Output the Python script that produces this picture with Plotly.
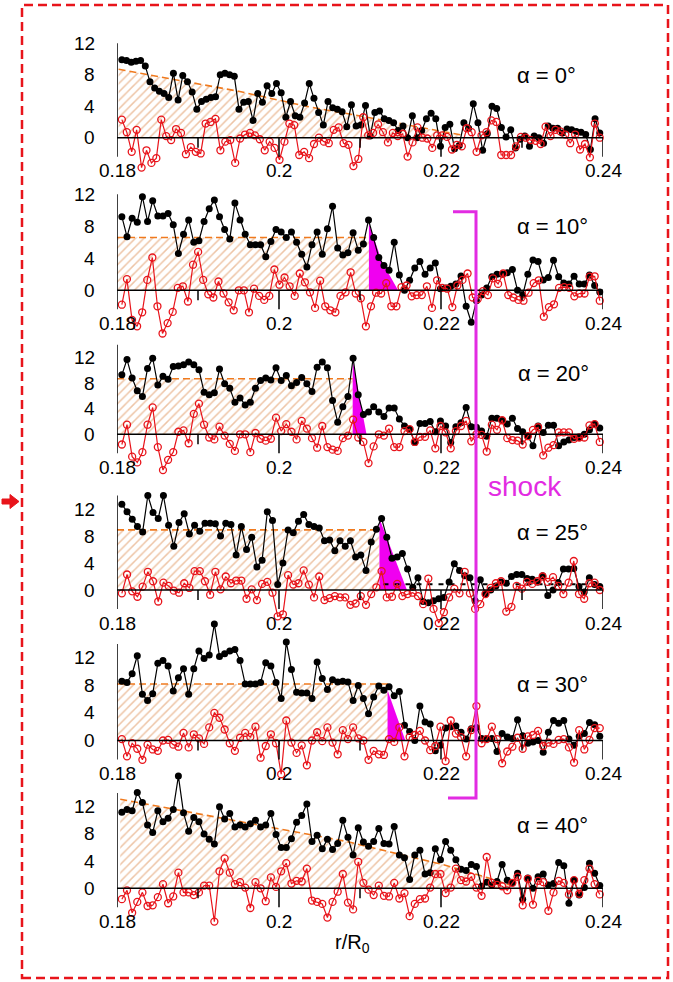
import numpy as np
import plotly.graph_objects as go

W, H = 673, 982
X_FIRST, X_LAST = 0.1806, 0.2396

# ---------------- data ----------------
x_ticks_major = [0.18, 0.20, 0.22, 0.24]
x_tick_labels = ["0.18", "0.2", "0.22", "0.24"]
x_ticks_minor = [0.19, 0.21, 0.23]
y_ticks_major = [0, 4, 8, 12]
y_tick_labels = ["0", "4", "8", "12"]
angles = ["α = 0°", "α = 10°", "α = 20°", "α = 25°", "α = 30°", "α = 40°"]
axis_top = [12, 12, 14, 14, 14, 14]

black_0 = [9.9, 9.8, 9.6, 9.7, 9.8, 9.1, 7.1, 6.3, 5.9, 5.6,
           5.1, 8.2, 4.8, 7.9, 7.1, 5.8, 3.6, 4.6, 4.9, 5.1,
           5.2, 8.0, 8.2, 8.0, 7.8, 3.6, 4.5, 4.6, 2.2, 5.6,
           4.5, 6.6, 5.6, 6.9, 5.7, 2.6, 4.6, 2.8, 2.6, 4.4,
           6.9, 5.0, 3.2, 1.6, 4.6, 3.8, 3.6, 3.3, 1.4, 4.2,
           1.5, 1.6, 4.1, 0.2, 3.2, 3.4, 2.4, 2.2, 1.9, 0.9,
           1.5, 0.0, 2.8, 0.0, 0.9, 2.4, 3.1, 2.4, -1.1, 1.3,
           1.7, -1.4, -1.0, 1.9, 1.2, 4.3, 1.9, -1.6, 0.5, 4.0,
           3.7, 1.3, 0.1, 1.0, -1.3, -0.2, 0.2, -1.1, 0.2, 0.0,
           -0.7, 1.5, 1.2, 1.2, 0.6, 1.1, 1.0, 0.8, 0.7, 0.4,
           -1.5, 2.4, 0.6]
red_0 = [2.3, 0.7, -1.8, 1.0, -3.8, -1.6, -3.2, -2.6, 2.3, 0.2,
         -0.3, 1.1, 0.6, -2.1, -1.2, -1.8, -2.0, 1.8, 2.0, 2.4,
         -1.6, -0.5, -0.3, -3.2, -0.1, 0.4, 0.6, 0.3, -0.2, -1.6,
         -0.5, -1.3, -2.8, -0.5, 1.8, 1.6, -2.2, -1.8, -2.6, -0.8,
         0.0, -0.5, -0.7, 1.0, 1.3, -0.7, -0.9, -3.6, -2.7, 2.6,
         0.3, 0.6, 1.7, 0.7, -0.6, 0.6, 0.2, 0.5, -2.4, -0.6,
         1.3, 0.0, -0.1, -1.3, 0.3, 0.3, 0.1, -1.5, -0.9, -1.1,
         1.2, 0.7, -1.8, 0.3, 0.7, 2.2, 2.0, -2.2, -2.2, -2.2,
         -1.1, 0.1, 0.0, -0.3, -0.4, -0.8, 1.4, 0.2, 1.0, 0.8,
         0.4, -0.7, 0.4, -1.5, -0.8, -2.5, 1.8, 0.0]

black_1 = [9.2, 6.7, 9.0, 8.5, 11.7, 8.6, 11.2, 9.3, 9.3, 9.6,
           8.2, 4.6, 7.0, 8.8, 6.0, 6.2, 8.6, 10.2, 11.3, 9.2,
           7.6, 6.4, 10.9, 8.8, 7.0, 5.7, 5.7, 5.7, 4.2, 6.1,
           7.6, 7.3, 6.6, 7.3, 6.0, 4.5, 2.9, 5.7, 7.3, 4.5,
           7.7, 10.5, 5.3, 4.4, 4.7, 7.2, 5.0, 5.8, 8.8,
           6.6, 4.1, 3.1, 2.5, 6.0, 1.9, 0.0, 1.25, 2.8, 3.6,
           2.0, 2.8, 3.4, 0.2, 0.3, 0.5, 0.8, 1.8, -2.0, -4.0,
           -1.3, -0.6, 0.3, 1.7, 2.0, 2.0, 2.2, 2.6, 0.0, -0.6,
           2.0, 3.8, 3.6, 1.3, 1.6, 3.75, 1.7, 0.9, 0.8, 1.75,
           0.8, 0.8, 1.9, 0.6, -0.2]
red_1 = [-1.8, 1.4, -3.7, -4.5, -2.75, 1.3, 4.1, -2.0, -5.4, -4.1,
         -2.7, 0.3, 0.5, -1.4, 3.2, 4.8, 1.3, -0.5, -0.9, 1.1,
         -0.4, -1.5, -2.5, 0.0, 0.0, -2.75, 0.2, -0.7, -1.2, -0.7,
         2.6, 0.7, 1.6, 0.5, -0.7, 2.1, 1.0, -0.25, -2.2, 1.2,
         -2.0, -2.5, -2.75, -0.7, -0.25, 2.25, -0.4, -1.0, -4.5,
         -2.0, -0.3, -0.4, 0.9, -2.0, -2.0, 0.4, 0.6, -0.75, -0.6,
         -0.6, 0.5, -2.2, 1.25, 0.3, 0.2, -2.1, 0.6, 1.3, 2.1,
         -0.9, -1.1, -0.1, -0.6, 1.5, 0.8, 2.1, -0.6, -0.9, -1.2,
         -1.3, -0.3, 0.9, 1.25, -3.3, -2.1, -1.75, 0.3, 0.4, 0.3,
         -0.75, -0.4, -0.4, 1.7, 1.75, -1.3]

black_2 = [9.3, 11.7, 8.8, 6.8, 5.9, 10.3, 11.9, 7.7, 9.1, 8.6,
           10.6, 10.7, 10.9, 11.3, 10.9, 10.1, 6.6, 6.2, 6.5, 10.2,
           7.9, 7.2, 5.0, 5.7, 4.6, 5.0, 7.2, 8.4, 8.8, 8.5,
           10.4, 8.4, 9.2, 7.6, 8.1, 8.9, 7.9, 6.7, 10.5, 11.3,
           10.4, 5.3, 1.9, 4.3, 5.9, 11.9, 6.2, 3.1, 3.5, 4.3,
           3.5, 2.8, 4.1, 4.1, 2.4, 1.3, 0.8, -1.3, 1.7, 1.7,
           2.0, 0.4, 2.1, 1.3, -1.3, 1.2, 1.8, 4.2, 1.2, 1.1,
           0.5, -0.3, 2.5, 2.5, 2.2, 1.6, 2.5, 0.9, 0.4, -0.3,
           -1.8, 1.3, 0.3, 1.4, 1.4, -1.8, -1.2, -0.9, -0.5, -0.5,
           0.0, 0.7, 1.6, 1.0]
red_2 = [-1.6, 1.5, -3.5, -4.4, -2.8, 1.5, 4.2, -2.0, -5.6, -4.0,
         -2.8, 0.4, 0.6, -1.4, 3.2, 4.8, 1.5, -0.5, -0.8, 1.2,
         -0.2, -1.5, -2.6, 0.0, 0.0, -2.8, 0.2, -0.7, -1.0, -0.7,
         2.6, 0.5, 1.6, 0.4, -0.8, 2.1, 0.9, -0.6, -2.1, 1.3,
         -2.0, -2.4, -2.6, -0.6, -0.2, 2.3, -0.5, -1.2, -4.5, -1.9,
         0.0, -0.2, 0.9, -2.0, -2.0, 0.5, 0.8, -1.2, -0.4, -0.4,
         0.6, -2.2, 1.3, 0.3, -2.2, 0.5, 1.3, 2.1, -1.1, 0.0,
         -0.1, -2.7, 1.5, 0.7, 2.2, -0.6, -0.9, -1.0, -1.6, -0.3,
         0.7, 1.1, -3.3, -2.1, -1.7, 0.3, 0.3, 0.3, -0.7, -0.5,
         -0.5, 1.4, 1.6, -1.2]

black_3 = [12.7, 11.6, 10.5, 9.4, 8.6, 14.0, 11.5, 10.6, 14.0, 9.6,
           6.5, 10.0, 11.3, 8.3, 9.6, 8.7, 9.9, 9.9, 9.8, 8.0,
           9.9, 9.7, 5.2, 9.4, 6.0, 7.8, 3.4, 4.4, 11.6, 10.3,
           0.8, 4.0, 8.9, 8.5, 10.2, 11.2, 9.7, 9.4, 9.2, 7.3,
           7.4, 5.8, 7.3, 6.5, 7.3, 4.9, 5.2, 2.9, 7.1, 9.0,
           10.6, 7.8, 4.7, 4.9, 5.4, 3.1, 0.4, 1.8, -1.7, -1.9,
           -1.6, -1.3, -1.1, 1.2, 3.9, 2.9, 2.1, 1.8, -1.6, 1.5,
           -0.6, 0.0, 0.6, 1.2, 1.0, 2.0, 2.3, 2.3, 1.7, 1.6,
           1.2, 2.1, -0.8, 0.0, 1.1, 3.1, 3.1, 3.2, 0.5, -0.3,
           1.8, 0.8, 0.5]
red_3 = [-0.5, 2.3, -0.2, -1.0, 0.5, 2.7, 1.3, -1.7, 1.1, 0.6,
         -0.1, -0.4, 1.0, 0.3, 2.8, 2.8, 1.3, -0.7, 2.7, 0.1,
         2.0, 1.0, 1.4, 1.4, -1.3, 0.1, -1.5, 0.9, 1.2, -0.4,
         -3.9, -3.6, 2.2, 0.8, 1.0, 2.9, 0.8, -1.1, 2.0, -1.5,
         -1.2, -0.9, -1.1, -1.1, -2.2, -2.0, -0.9, -2.2, -0.6, 0.4,
         2.8, -1.1, -1.0, 0.9, -0.9, -0.6, -0.4, -0.9, -2.1, 1.7,
         -2.8, -4.9, -3.3, -1.1, 0.2, -0.5, 2.7, -0.5, -2.8, -2.1,
         -0.6, 0.3, 1.0, 1.3, -3.2, -2.5, 0.6, 0.2, 1.2, 0.9,
         1.3, 2.0, 1.2, 1.9, 0.6, -0.6, 1.1, 4.3, -0.6, -1.3,
         1.0, 1.1, 0.0]

black_4 = [8.6, 8.4, 9.7, 12.3, 6.7, 5.8, 6.8, 11.2, 11.6, 10.8,
           7.2, 9.1, 10.4, 6.7, 10.4, 13.0, 11.9, 12.4, 16.9, 12.2,
           12.6, 13.0, 13.2, 11.6, 8.2, 8.2, 8.2, 8.4, 11.3, 10.8,
           8.4, 6.1, 14.3, 10.3, 7.0, 6.9, 6.9, 6.1, 11.4, 9.0,
           7.4, 8.8, 8.5, 8.6, 8.5, 5.8, 8.0, 6.1, 3.9, 6.3,
           7.9, 7.3, 7.8, 6.5, 7.1, 2.2, 1.3, 0.0, 5.0, 2.7,
           2.4, -1.5, -0.7, 1.8, 2.0, 2.1, 1.2, 0.2, 1.7, 1.9,
           0.3, 0.3, 0.3, -1.6, 1.0, 0.5, 0.3, 3.0, 0.7, -0.4,
           -0.2, 0.0, -1.7, 1.2, 2.9, 2.5, 2.9, 0.2, -0.7, 0.6,
           1.0, 2.6, 2.3, 0.6]
red_4 = [0.2, -2.3, -0.4, -1.2, -2.8, -0.6, -1.3, -1.5, 0.0, 0.1,
         -0.6, -0.9, 1.1, -1.0, 0.9, 0.3, -0.5, 1.9, 4.0, 3.3,
         1.6, -0.4, -1.5, 0.4, 1.1, 0.5, 2.0, -2.5, -0.8, 0.9,
         -0.4, -4.9, 2.9, -0.3, -1.8, -0.7, -3.6, 0.0, 1.2, -0.1,
         1.9, -0.3, -2.0, 1.5, 0.2, 1.9, 0.3, 0.0, -2.8, -1.5,
         -2.0, -2.1, 0.2, -0.2, 1.9, -2.3, 0.5, 0.8, 1.4, 0.0,
         -1.4, -0.8, 2.0, -3.0, 2.9, 1.0, 0.5, -2.3, 1.5, 5.0,
         -0.4, 0.2, 2.0, 0.2, -3.3, -1.6, -0.9, 0.4, -1.2, 0.6,
         0.8, 1.4, -0.8, -0.3, -0.5, 0.1, 0.2, -1.0, -3.2, 1.5,
         -1.3, 0.1, 1.8, 1.8]

black_5 = [11.2, 11.6, 11.4, 14.1, 12.6, 9.3, 8.2, 11.4, 9.8, 10.3,
           11.6, 16.5, 11.1, 8.4, 10.4, 9.8, 8.0, 7.2, 6.5, 12.0,
           10.2, 11.0, 9.0, 9.3, 9.0, 9.5, 10.0, 9.0, 9.3, 11.0,
           7.9, 6.0, 6.0, 7.3, 9.7, 10.7, 12.4, 6.9, 7.8, 5.8,
           7.2, 5.7, 6.6, 10.0, 7.5, 4.9, 8.9, 6.8, 6.2, 6.9,
           8.8, 6.6, 6.5, 9.1, 4.9, 4.5, 1.3, 4.9, 5.6, 2.1,
           2.3, 5.8, 4.2, 6.9, 5.6, 4.2, 2.8, 2.6, 3.5, 3.2,
           0.3, 0.9, 0.5, 1.0, 3.5, 1.2, 0.8, 2.2, -1.6, 1.5,
           0.0, 1.7, 2.1, 0.5, 0.7, 3.8, 3.3, -2.2, 1.2, -1.0,
           0.1, 3.7, 2.2, 0.4]
red_5 = [-1.6, -0.3, -3.6, -2.0, -0.6, -2.6, -2.5, -1.3, 0.6, -2.2,
         -1.2, 2.3, -0.6, -0.6, -1.0, -0.6, 0.4, 0.4, -4.9, 2.5,
         4.4, 2.3, 0.6, 0.9, 0.1, -2.9, 0.9, 0.0, -1.9, 1.6,
         0.2, 2.5, 3.7, 0.7, 1.1, 1.0, 2.9, -1.8, -2.0, -2.3,
         -4.3, -2.0, -0.5, 2.1, -2.1, -3.1, 3.9, 0.8, -0.2, -1.0,
         0.4, -1.1, -1.2, 0.8, -1.5, -0.7, -4.1, -2.3, -1.6, -1.5,
         0.1, 2.1, 2.1, -0.7, 0.1, 2.9, 1.2, 1.0, 1.7, 0.1,
         -1.1, 4.6, 0.8, 0.5, 0.3, -0.3, 0.8, 1.7, -2.5, 1.4,
         -2.4, 1.1, 0.9, -3.3, -0.6, 1.1, 0.8, -0.9, 1.2, -0.8,
         1.2, 2.9, 0.6, -0.9]

# orange dashed "upstream level" lines (hatched underneath)
orange_x_0 = [0.1802, 0.1950, 0.2038, 0.2104, 0.2170, 0.2214, 0.2225]
orange_y_0 = [8.7, 5.9, 3.9, 2.7, 1.4, 0.6, 0.35]
orange_x_1 = [0.1800, 0.2111]
orange_y_1 = [6.6, 6.6]
orange_x_2 = [0.1800, 0.2091]
orange_y_2 = [8.7, 8.7]
orange_x_3 = [0.1800, 0.2124]
orange_y_3 = [8.9, 8.9]
orange_x_4 = [0.1800, 0.2135]
orange_y_4 = [8.2, 8.2]
orange_x_5 = [0.1804, 0.1929, 0.1995, 0.2083, 0.2149, 0.2202, 0.2259, 0.2285]
orange_y_5 = [13.1, 10.3, 8.8, 6.9, 5.0, 3.5, 1.5, 0.5]

# magenta shock regions
shock_x_1 = [0.2111, 0.2111, 0.2127, 0.2147]
shock_y_1 = [0.0, 8.4, 3.6, 0.0]
shock_x_2 = [0.2091, 0.2091, 0.2108]
shock_y_2 = [0.0, 11.6, 0.0]
shock_x_3 = [0.2124, 0.2124, 0.2158]
shock_y_3 = [0.0, 10.6, 0.0]
shock_x_4 = [0.2134, 0.2134, 0.2156]
shock_y_4 = [0.0, 7.3, 0.0]

# black dashed reference level in the alpha = 25 panel
ref_x_3 = [0.2129, 0.2396]
ref_y_3 = [0.85, 0.85]

blacks = [black_0, black_1, black_2, black_3, black_4, black_5]
reds = [red_0, red_1, red_2, red_3, red_4, red_5]
oranges = [(orange_x_0, orange_y_0), (orange_x_1, orange_y_1), (orange_x_2, orange_y_2),
           (orange_x_3, orange_y_3), (orange_x_4, orange_y_4), (orange_x_5, orange_y_5)]
shocks = {1: (shock_x_1, shock_y_1), 2: (shock_x_2, shock_y_2),
          3: (shock_x_3, shock_y_3), 4: (shock_x_4, shock_y_4)}

# ---------------- layout geometry (pixels) ----------------
zero_px = [137.7, 290.3, 434.3, 590.0, 740.5, 888.3]
unit_px = [7.87, 8.0, 6.39, 6.75, 6.89, 6.8]
alpha_pos = [(546, 75), (552, 226), (553, 374), (552, 532), (552, 684), (552, 825)]
XL, XR = 117, 603
FONT = "Liberation Sans, Arial, sans-serif"
RED = "#e8141b"
ORANGE = "#f07a1e"
HATCH = "#dc8a4e"
MAGENTA = "#f000f0"
BRACKET = "#e22be2"


def pxx(p):
    return p / W


def pxy(p):
    return 1 - p / H


fig = go.Figure()
shapes = []
annotations = []
axes = {}

for k in range(6):
    sfx = "" if k == 0 else str(k + 1)
    xa, ya = "x" + sfx, "y" + sfx
    Z, s = zero_px[k], unit_px[k]
    ymax = min(18.0, Z / s - 0.05)
    ymin = -7.0
    T = Z - ymax * s
    B = Z - ymin * s
    axes["xaxis" + sfx] = dict(domain=[pxx(XL), pxx(XR)], range=[0.18, 0.24],
                               visible=False, anchor=ya, fixedrange=True)
    axes["yaxis" + sfx] = dict(domain=[pxy(B), pxy(T)], range=[ymin, ymax],
                               visible=False, anchor=xa, fixedrange=True)

    ox, oy = oranges[k]
    fig.add_trace(go.Scatter(
        x=ox, y=oy, xaxis=xa, yaxis=ya, mode="lines",
        line=dict(color=ORANGE, width=1.6, dash="7px,4px"),
        fill="tozeroy", fillcolor="rgba(0,0,0,0)",
        fillpattern=dict(shape="/", fgcolor=HATCH, bgcolor="rgba(0,0,0,0)",
                         size=6, solidity=0.25),
        hoverinfo="skip", showlegend=False))

    if k in shocks:
        sx, sy = shocks[k]
        fig.add_trace(go.Scatter(
            x=sx, y=sy, xaxis=xa, yaxis=ya, mode="lines", fill="toself",
            fillcolor=MAGENTA, line=dict(width=0, color=MAGENTA),
            hoverinfo="skip", showlegend=False))

    if k == 3:
        fig.add_trace(go.Scatter(
            x=ref_x_3, y=ref_y_3, xaxis=xa, yaxis=ya, mode="lines",
            line=dict(color="black", width=2, dash="5px,6px"),
            hoverinfo="skip", showlegend=False))

    bvals = blacks[k]
    bx = np.linspace(X_FIRST, X_LAST, len(bvals))
    fig.add_trace(go.Scatter(
        x=bx, y=bvals, xaxis=xa, yaxis=ya, mode="lines+markers",
        line=dict(color="black", width=1.2),
        marker=dict(symbol="circle", size=7, color="black"),
        cliponaxis=False, showlegend=False))

    rvals = reds[k]
    rx = np.linspace(X_FIRST, X_LAST, len(rvals))
    fig.add_trace(go.Scatter(
        x=rx, y=rvals, xaxis=xa, yaxis=ya, mode="lines+markers",
        line=dict(color=RED, width=1.2),
        marker=dict(symbol="circle-open", size=7, color=RED, line=dict(width=1.3, color=RED)),
        cliponaxis=False, showlegend=False))

    axl = dict(color="black", width=1.5)
    # y axis line
    shapes.append(dict(type="line", xref=xa, yref=ya, x0=0.18, x1=0.18,
                       y0=0, y1=axis_top[k], line=axl))
    # y ticks
    yt_minor = [v + 2 for v in y_ticks_major if v + 2 <= axis_top[k]]
    for v in y_ticks_major:
        shapes.append(dict(type="line", xref=xa, yref=ya, xsizemode="pixel",
                           xanchor=0.18, x0=-16, x1=0, y0=v, y1=v, line=axl))
    for v in yt_minor:
        shapes.append(dict(type="line", xref=xa, yref=ya, xsizemode="pixel",
                           xanchor=0.18, x0=-9, x1=0, y0=v, y1=v, line=axl))
    for v, lab in zip(y_ticks_major, y_tick_labels):
        annotations.append(dict(xref=xa, yref=ya, x=0.18, y=v, text=lab,
                                xanchor="right", yanchor="middle", xshift=-20,
                                showarrow=False,
                                font=dict(family=FONT, size=19, color="black")))
    # zero line (x axis)
    shapes.append(dict(type="line", xref=xa, yref=ya, x0=0.18, x1=0.24,
                       y0=0, y1=0, line=axl))
    for v in x_ticks_major:
        shapes.append(dict(type="line", xref=xa, yref=ya, ysizemode="pixel",
                           yanchor=0, y0=0, y1=-19, x0=v, x1=v, line=axl))
    for v in x_ticks_minor:
        shapes.append(dict(type="line", xref=xa, yref=ya, ysizemode="pixel",
                           yanchor=0, y0=0, y1=-10, x0=v, x1=v, line=axl))
    for v, lab in zip(x_ticks_major, x_tick_labels):
        annotations.append(dict(xref=xa, yref=ya, x=v, y=0, text=lab,
                                xanchor="center", yanchor="middle", yshift=-33,
                                showarrow=False,
                                font=dict(family=FONT, size=19, color="black")))
    ax_, ay_ = alpha_pos[k]
    annotations.append(dict(xref="paper", yref="paper", x=pxx(ax_), y=pxy(ay_),
                            text=angles[k], xanchor="center", yanchor="middle",
                            showarrow=False,
                            font=dict(family=FONT, size=22, color="black")))

# x axis title
annotations.append(dict(xref="paper", yref="paper", x=pxx(352), y=pxy(943),
                        text="r/R<sub>0</sub>", xanchor="center", yanchor="middle",
                        showarrow=False, font=dict(family=FONT, size=20, color="black")))
# shock label
annotations.append(dict(xref="paper", yref="paper", x=pxx(525), y=pxy(487),
                        text="shock", xanchor="center", yanchor="middle",
                        showarrow=False, font=dict(family=FONT, size=28, color=BRACKET)))

# shock bracket
bx0, bx1, by0, by1, bx2 = 453, 476, 211.7, 798, 448
shapes.append(dict(type="path", xref="paper", yref="paper",
                   path=f"M {pxx(bx0)},{pxy(by0)} L {pxx(bx1)},{pxy(by0)} "
                        f"L {pxx(bx1)},{pxy(by1)} L {pxx(bx2)},{pxy(by1)}",
                   line=dict(color=BRACKET, width=3)))

# red dashed frame
shapes.append(dict(type="rect", xref="paper", yref="paper",
                   x0=pxx(22), x1=pxx(668), y0=pxy(978), y1=pxy(5),
                   line=dict(color=RED, width=2.5, dash="9px,5px")))
# small red arrow on the left edge
ay = 501.5
pts = [(2, ay - 2.5), (10, ay - 2.5), (10, ay - 7), (19, ay), (10, ay + 7), (10, ay + 2.5), (2, ay + 2.5)]
path = "M " + " L ".join(f"{pxx(a)},{pxy(b)}" for a, b in pts) + " Z"
shapes.append(dict(type="path", xref="paper", yref="paper", path=path,
                   fillcolor=RED, line=dict(color=RED, width=1)))

fig.update_layout(
    width=W, height=H, margin=dict(l=0, r=0, t=0, b=0),
    paper_bgcolor="white", plot_bgcolor="rgba(0,0,0,0)",
    showlegend=False, shapes=shapes, annotations=annotations,
    **axes)

fig.write_html("out.html")
